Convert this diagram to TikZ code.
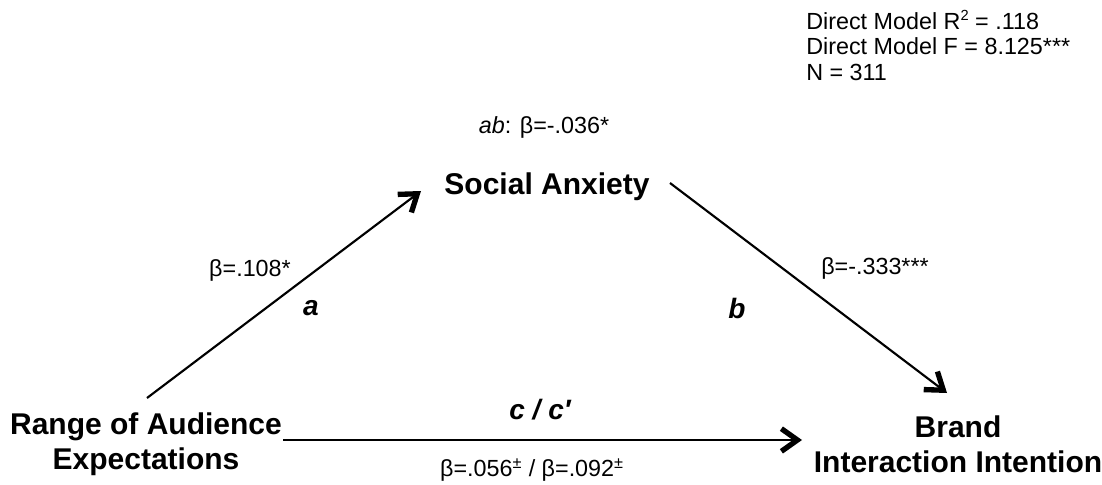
\documentclass[tikz,border=0pt]{standalone}
\usepackage{fontspec}
\setmainfont{Liberation Sans}
\usetikzlibrary{arrows.meta}
\tikzset{
	varbox/.style = {font=\fontsize{22.5}{26}\selectfont\bfseries, align=center, inner sep=0pt},
	coefbox/.style = {font=\fontsize{17.5}{19.5}\selectfont, inner sep=0pt},
	pathlbl/.style = {font=\fontsize{21}{24}\selectfont\bfseries\itshape, inner sep=0pt},
	patharrow/.style = {line width=1.6pt, -{Straight Barb[length=12pt, width=17pt, line width=4pt]}}
}
\begin{document}
\begin{tikzpicture}[x=0.75pt, y=-0.75pt]
	\useasboundingbox (0,0) rectangle (1102,485);
	% model summary
	\node [coefbox, anchor=west] (rsq) at (806,20) {Direct Model R{\fontsize{11}{12}\selectfont\raisebox{1.1ex}{2}} = .118};
	\node [coefbox, anchor=west] (fval) at (806,46) {Direct Model F = 8.125***};
	\node [coefbox, anchor=west] (nobs) at (806,72) {N = 311};
	% variables
	\node [varbox] (anx) at (547,187) {Social Anxiety};
	\node [varbox] (rae) at (146,444) {Range of Audience\\Expectations};
	\node [varbox] (bii) at (958,444) {Brand\\Interaction Intention};
	% arrow ends
	\coordinate (a0) at (147,398);
	\coordinate (a1) at (421,191);
	\coordinate (b0) at (670,183);
	\coordinate (b1) at (947,393);
	\coordinate (c0) at (283,440);
	\coordinate (c1) at (802,440);
	\draw [patharrow] (a0) -- (a1);
	\draw [patharrow] (b0) -- (b1);
	\draw [patharrow] (c0) -- (c1);
	% path labels
	\node [coefbox] (ab) at (544,127) {\textit{ab}: β=-.036*};
	\node [coefbox] (acoef) at (250,270) {β=.108*};
	\node [pathlbl] (alab) at (311,308) {a};
	\node [coefbox] (bcoef) at (875,268) {β=-.333***};
	\node [pathlbl] (blab) at (737,308) {b};
	\node [pathlbl] (clab) at (540,410) {c / c′};
	\node [coefbox] (ccoef) at (532,470) {β=.056\textsuperscript{±} / β=.092\textsuperscript{±}};
\end{tikzpicture}
\end{document}
